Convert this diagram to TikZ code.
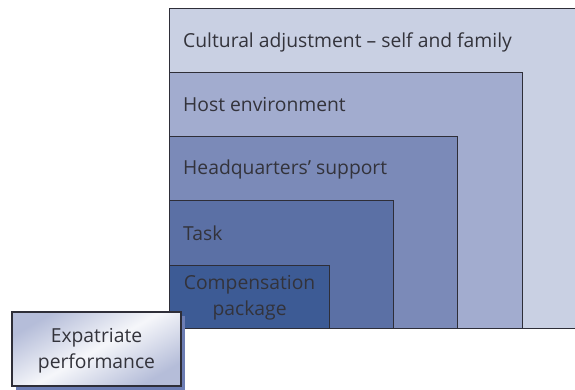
\documentclass[tikz,border=0pt]{standalone}
\usepackage{fontspec}
\setmainfont{Open Sans}
\usetikzlibrary{shadows}

\definecolor{cultfill}{HTML}{C9D0E3}
\definecolor{hostfill}{HTML}{A2ACCF}
\definecolor{hqfill}{HTML}{7B8AB8}
\definecolor{taskfill}{HTML}{5B70A5}
\definecolor{compfill}{HTML}{3D5B95}
\definecolor{edge}{HTML}{2E2E38}
\definecolor{ink}{HTML}{33333B}
\definecolor{shadowfill}{HTML}{6C7DB4}

\begin{document}
\begin{tikzpicture}[x=1pt,y=1pt,font=\fontsize{19.3}{26}\selectfont]
    \tikzset{
        layer/.style={
            draw=edge, line width=1.2pt, fill=#1,
            rectangle, inner sep=0pt, anchor=south west
        },
        lbl/.style={
            text=ink, anchor=west, inner sep=0pt
        }
    }

    \useasboundingbox (0,0) rectangle (575,389);

    % nested layers, outer first
    \node[layer=cultfill, minimum width=440, minimum height=320] (cult) at (169,60) {};
    \node[layer=hostfill, minimum width=353, minimum height=256] (host) at (169,60) {};
    \node[layer=hqfill, minimum width=288, minimum height=192] (hq) at (169,60) {};
    \node[layer=taskfill, minimum width=224, minimum height=128] (task) at (169,60) {};
    \node[layer=compfill, minimum width=160, minimum height=63] (comp) at (169,60) {};

    \node[lbl] (cultl) at (183,347) {Cultural adjustment -- self and family};
    \node[lbl] (hostl) at (183,284) {Host environment};
    \node[lbl] (hql) at (183,220) {Headquarters' support};
    \node[lbl] (taskl) at (183,156) {Task};
    \node[text=ink, align=center] (compl) at ([yshift=-1pt] comp.center) {Compensation\\package};

    % result box
    \node[draw=edge, line width=1.2pt, minimum width=169, minimum height=74,
        left color=hostfill!80, right color=hostfill!80, middle color=white!90!hostfill,
        shading angle=30, drop shadow={shadow xshift=4pt, shadow yshift=-4pt,
        fill=shadowfill, opacity=1}, text=ink, align=center] (expat) at (96.5,40) {};
    \node[text=ink, align=center] (expatl) at ([yshift=-2pt] expat.center) {Expatriate\\performance};
\end{tikzpicture}
\end{document}
